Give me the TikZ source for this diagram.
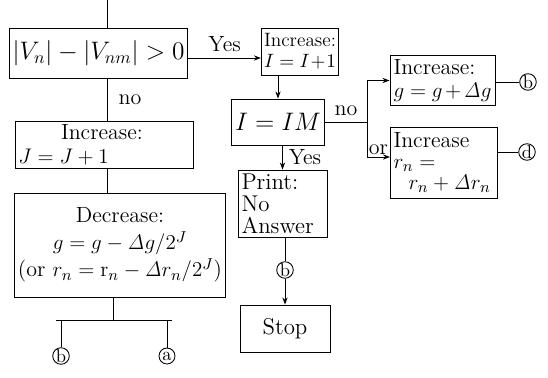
\documentclass[tikz,border=0pt]{standalone}
\usepackage{amsmath}
\usetikzlibrary{arrows.meta,positioning}
\newcommand{\fz}{\fontsize{12.5}{13.5}\selectfont}
\newcommand{\Dl}{\mathit{\Delta}}

\begin{document}
\begin{tikzpicture}[
  line width=0.55pt,
  box/.style={draw,line width=0.55pt,inner sep=2pt,font=\fz},
  tag/.style={draw,circle,line width=0.5pt,inner sep=0pt,minimum size=0.32cm,font=\fontsize{10.5}{10.5}\selectfont},
  arr/.style={-{Stealth[length=4pt,width=3pt]}},
]
  \useasboundingbox (0,0) rectangle (10.96,-7.56);

  % Left column: test and J branch
  \coordinate (top) at (2.14,0);
  \node[box,minimum width=3.46cm,minimum height=1.0cm,font=\fontsize{14}{16}\selectfont] (cond) at (1.97,-1.06) {$|V_n|-|V_{nm}|>0$};
  \draw (top) -- (top |- cond.north);

  \node[box,text width=3.42cm,minimum height=0.92cm,align=left] (incJ) at (2.08,-2.90) {\hspace*{0.85cm}Increase:\\$J=J+1$};
  \draw (top |- cond.south) -- node[right=3pt,font=\fz] {no} (top |- incJ.north);

  \node[box,minimum width=4.2cm,minimum height=2.08cm,align=center,font=\fontsize{12.5}{15.5}\selectfont] (decr) at (2.40,-4.90)
    {Decrease:\\$g=g-\Dl g/2^J$\\(or $r_n=\mathrm{r}_n-\Dl r_n/2^J$)};
  \draw (top |- incJ.south) -- (top |- decr.north);

  % Split below Decrease
  \coordinate (jn) at (2.26,-6.40);
  \node[tag] (bL) at (1.22,-7.12) {b};
  \node[tag] (aL) at (3.34,-7.12) {a};
  \draw (jn |- decr.south) -- (jn);
  \draw ([xshift=-0.1cm]bL |- jn) -- ([xshift=0.1cm]aL |- jn);
  \draw (bL |- jn) -- (bL);
  \draw (aL |- jn) -- (aL);

  % Middle column: I counter
  \node[box,text width=1.44cm,minimum height=0.94cm,align=left,inner xsep=1.5pt,font=\fontsize{11}{12}\selectfont] (incI) at (6.0,-1.03) {Increase:\\$I=I+1$};
  \draw[arr] ([yshift=-0.1cm]cond.east) -- node[above,font=\fz] {Yes} ([yshift=-0.1cm]cond.east -| incI.west);

  \node[box,minimum width=1.8cm,minimum height=0.92cm,font=\fontsize{14}{16}\selectfont] (chkI) at (5.56,-2.44) {$I=IM$};
  \draw[arr] (chkI.north |- incI.south) -- (chkI.north);

  \node[box,text width=1.64cm,minimum height=1.34cm,align=left,font=\fontsize{13}{12.5}\selectfont] (prnt) at (5.65,-4.07) {Print:\\No\\Answer};
  \draw[arr] (prnt.north |- chkI.south) -- node[right,font=\fz] {Yes} (prnt.north);

  \node[tag] (bM) at (5.70,-5.40) {b};
  \draw (prnt.south -| bM) -- (bM);

  \node[box,minimum width=1.8cm,minimum height=0.94cm,font=\fontsize{13}{14}\selectfont] (stop) at (5.70,-6.57) {Stop};
  \draw[arr] (bM) -- (bM |- stop.north);

  % Right column: g or r_n increase
  \node[box,text width=1.96cm,minimum height=0.94cm,align=left] (incg) at (8.85,-1.61) {Increase:\\$g=g+\Dl g$};
  \node[box,text width=2.0cm,minimum height=1.42cm,align=left,font=\fontsize{12.5}{12}\selectfont] (incr) at (8.87,-3.25)
    {Increase\\$r_n=$\\\hspace*{0.3cm}\mbox{$r_n+\Dl r_n$}};

  \coordinate (fork) at (7.34,-2.40);
  \coordinate (lowin) at (7.80,-3.14);
  \draw (chkI.east) -- node[above,font=\fz] {no} (chkI.east -| fork);
  \draw (fork |- incg.west) -- (fork |- lowin);
  \draw[arr] (fork |- incg.west) -- (incg.west);
  \draw[arr] (fork |- lowin) -- node[above,font=\fz,inner sep=1pt] {or} (lowin);

  \node[tag] (bR) at (10.56,-1.64) {b};
  \node[tag] (dR) at (10.54,-3.04) {d};
  \draw (incg.east |- bR) -- (bR);
  \draw (incr.east |- dR) -- (dR);
\end{tikzpicture}
\end{document}
